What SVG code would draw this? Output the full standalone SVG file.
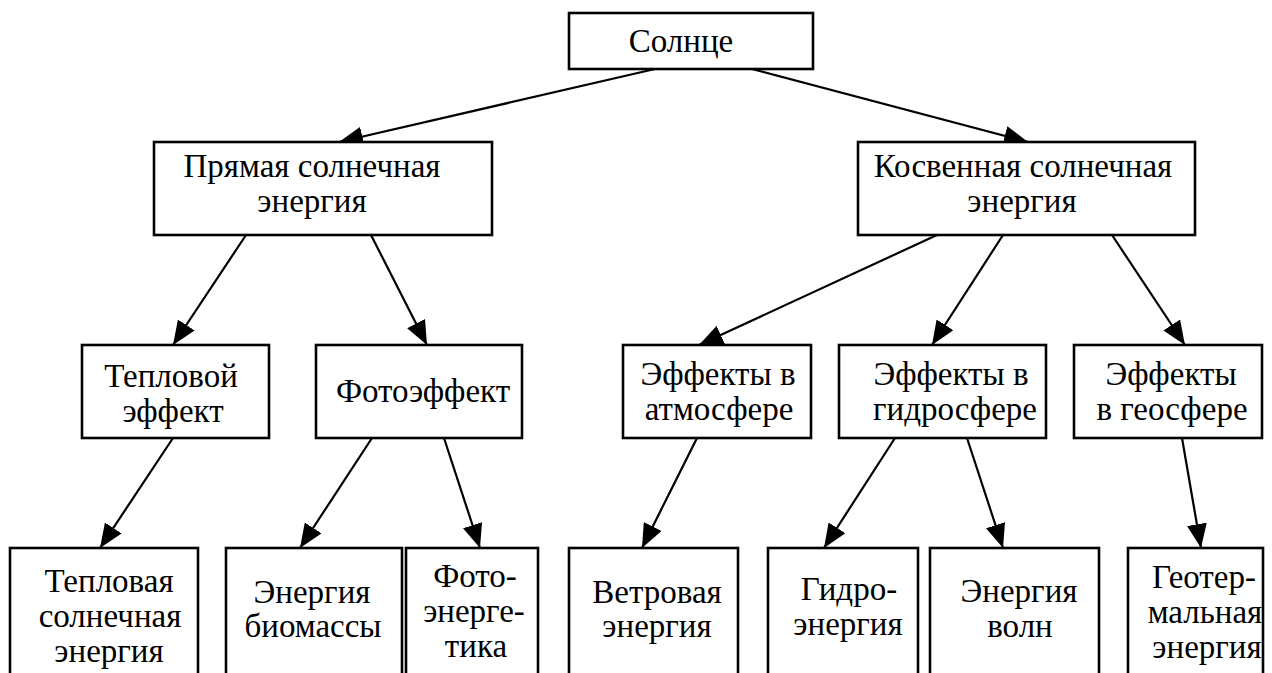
<svg xmlns="http://www.w3.org/2000/svg" width="1272" height="673" viewBox="0 0 1272 673">
  <style>
    .box { fill: #ffffff; stroke: #000000; stroke-width: 2.6; }
    .lbl { font-family: "Liberation Serif", "Times New Roman", serif; font-size: 33px; fill: #000000; text-anchor: middle; }
    .edge { stroke: #000000; stroke-width: 2.2; fill: none; marker-end: url(#arrow); }
  </style>
  <defs>
    <marker id="arrow" markerUnits="userSpaceOnUse" markerWidth="24" markerHeight="20" refX="24" refY="10" orient="auto">
      <path d="M0,0 L24,10 L0,20 Z" fill="#000000"/>
    </marker>
  </defs>
  <rect width="1272" height="673" fill="#ffffff"/>

  <!-- connectors -->
  <g id="connectors">
    <line class="edge" x1="655" y1="69" x2="339" y2="142"/>
    <line class="edge" x1="752" y1="69" x2="1028" y2="142"/>
    <line class="edge" x1="246" y1="235" x2="173" y2="345"/>
    <line class="edge" x1="371" y1="235" x2="427" y2="345"/>
    <line class="edge" x1="937" y1="235" x2="699" y2="345"/>
    <line class="edge" x1="1003" y1="235" x2="932" y2="345"/>
    <line class="edge" x1="1112" y1="235" x2="1185" y2="345"/>
    <line class="edge" x1="173" y1="438" x2="100" y2="548"/>
    <line class="edge" x1="372" y1="438" x2="300" y2="548"/>
    <line class="edge" x1="444" y1="438" x2="480" y2="548"/>
    <line class="edge" x1="697" y1="438" x2="642" y2="548"/>
    <line class="edge" x1="895" y1="438" x2="824" y2="548"/>
    <line class="edge" x1="967" y1="438" x2="1003" y2="548"/>
    <line class="edge" x1="1182" y1="438" x2="1201" y2="548"/>
  </g>

  <!-- level 0 -->
  <g id="sun">
    <rect class="box" x="569" y="13" width="244" height="56"/>
    <text class="lbl" x="681" y="52">Солнце</text>
  </g>

  <!-- level 1 -->
  <g id="direct">
    <rect class="box" x="154" y="142" width="338" height="93"/>
    <text class="lbl" x="312" y="177">Прямая солнечная</text>
    <text class="lbl" x="312" y="212">энергия</text>
  </g>
  <g id="indirect">
    <rect class="box" x="858" y="142" width="337" height="93"/>
    <text class="lbl" x="1023" y="177">Косвенная солнечная</text>
    <text class="lbl" x="1022" y="212">энергия</text>
  </g>

  <!-- level 2 -->
  <g id="thermal-effect">
    <rect class="box" x="82" y="345" width="187" height="93"/>
    <text class="lbl" x="171" y="387">Тепловой</text>
    <text class="lbl" x="173" y="422">эффект</text>
  </g>
  <g id="photo-effect">
    <rect class="box" x="316" y="345" width="206" height="93"/>
    <text class="lbl" x="423" y="402">Фотоэффект</text>
  </g>
  <g id="atmosphere">
    <rect class="box" x="623" y="345" width="188" height="93"/>
    <text class="lbl" x="718" y="385">Эффекты в</text>
    <text class="lbl" x="719" y="420">атмосфере</text>
  </g>
  <g id="hydrosphere">
    <rect class="box" x="839" y="345" width="207" height="93"/>
    <text class="lbl" x="951" y="385">Эффекты в</text>
    <text class="lbl" x="955" y="420">гидросфере</text>
  </g>
  <g id="geosphere">
    <rect class="box" x="1074" y="345" width="188" height="93"/>
    <text class="lbl" x="1171" y="385">Эффекты</text>
    <text class="lbl" x="1172" y="420">в геосфере</text>
  </g>

  <!-- level 3 -->
  <g id="solar-thermal">
    <rect class="box" x="10" y="548" width="188" height="140"/>
    <text class="lbl" x="109" y="592">Тепловая</text>
    <text class="lbl" x="110" y="627">солнечная</text>
    <text class="lbl" x="109" y="662">энергия</text>
  </g>
  <g id="biomass">
    <rect class="box" x="226" y="548" width="176" height="140"/>
    <text class="lbl" x="312" y="603">Энергия</text>
    <text class="lbl" x="313" y="637">биомассы</text>
  </g>
  <g id="photovoltaics">
    <rect class="box" x="406" y="548" width="132" height="140"/>
    <text class="lbl" x="475" y="587">Фото-</text>
    <text class="lbl" x="474" y="622">энерге-</text>
    <text class="lbl" x="476" y="657">тика</text>
  </g>
  <g id="wind">
    <rect class="box" x="569" y="548" width="169" height="140"/>
    <text class="lbl" x="657" y="603">Ветровая</text>
    <text class="lbl" x="657" y="637">энергия</text>
  </g>
  <g id="hydro">
    <rect class="box" x="768" y="548" width="150" height="140"/>
    <text class="lbl" x="849" y="600">Гидро-</text>
    <text class="lbl" x="848" y="635">энергия</text>
  </g>
  <g id="waves">
    <rect class="box" x="930" y="548" width="169" height="140"/>
    <text class="lbl" x="1019" y="602">Энергия</text>
    <text class="lbl" x="1020" y="637">волн</text>
  </g>
  <g id="geothermal">
    <rect class="box" x="1128" y="548" width="135" height="140"/>
    <text class="lbl" x="1204" y="588">Геотер-</text>
    <text class="lbl" x="1205" y="623">мальная</text>
    <text class="lbl" x="1207" y="658">энергия</text>
  </g>
</svg>
